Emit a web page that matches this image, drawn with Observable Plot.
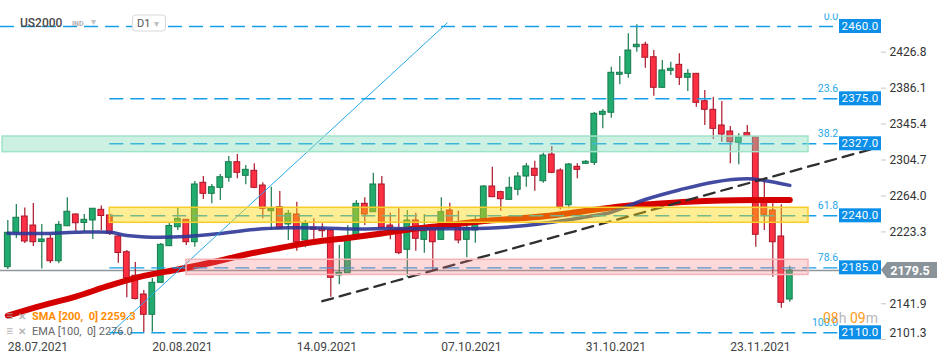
<!DOCTYPE html>
<html>
<head>
<meta charset="utf-8">
<script src="https://cdn.jsdelivr.net/npm/d3@7"></script>
<script src="https://cdn.jsdelivr.net/npm/@observablehq/plot@0.6"></script>
<style>
  html, body { margin: 0; padding: 0; background: #fff; }
  #chart { width: 950px; height: 364px; font-family: Roboto, "Noto Sans", sans-serif; }
</style>
</head>
<body>
<div id="chart"></div>
<script>
// ---------- data ----------
const symbol = "US2000";
const timeframe = "D1";
const xTickIdx = [0, 17, 34, 51, 68, 85];
const xTickLabels = ["28.07.2021", "20.08.2021", "14.09.2021", "07.10.2021", "31.10.2021", "23.11.2021"];
const yTicks = [2101.3, 2141.9, 2223.3, 2264.0, 2304.7, 2345.4, 2386.1, 2426.8];

const open = [
2183.3,2222.3,2240.7,2230.5,2211.9,2215.5,2190.1,2229.7,2243.0,2233.4,
2236.2,2248.3,2241.9,2218.1,2200.3,2173.6,2152.4,2129.4,2165.6,2207.1,
2228.6,2237.0,2211.6,2278.9,2266.4,2273.2,2284.6,2302.2,2286.8,2292.5,
2275.8,2246.7,2251.3,2231.7,2243.0,2213.6,2227.9,2226.8,2224.9,2173.9,
2176.5,2215.5,2255.1,2245.6,2277.0,2230.5,2225.7,2203.0,2236.2,2214.3,
2225.7,2214.3,2247.5,2232.5,2214.3,2224.9,2236.2,2274.7,2268.3,2259.6,
2271.0,2286.0,2294.8,2280.7,2310.9,2292.8,2253.5,2297.0,2300.4,2301.5,
2355.9,2358.2,2401.2,2402.3,2432.5,2435.2,2421.1,2386.5,2405.7,2412.5,
2397.8,2402.3,2371.3,2361.6,2343.8,2337.0,2324.2,2335.1,2330.5,2256.9,
2247.5,2218.1,2146.7];
const high = [
2236.2,2254.3,2250.4,2255.5,2231.7,2219.8,2235.1,2261.9,2243.6,2243.0,
2249.8,2252.6,2243.0,2220.0,2202.2,2188.6,2156.9,2170.5,2210.2,2233.9,
2250.6,2237.3,2280.4,2286.0,2277.0,2288.3,2308.7,2310.9,2298.5,2300.4,
2278.9,2273.9,2269.0,2247.5,2256.9,2236.2,2238.1,2232.5,2226.0,2207.9,
2230.5,2258.9,2261.9,2289.8,2286.0,2244.5,2249.5,2247.5,2244.5,2243.0,
2229.4,2261.9,2255.8,2246.7,2232.8,2240.7,2275.8,2296.6,2269.4,2285.2,
2290.6,2300.8,2303.4,2312.4,2320.0,2294.8,2300.8,2300.4,2304.2,2358.5,
2361.9,2409.8,2421.9,2447.6,2457.8,2438.1,2428.7,2417.4,2415.5,2425.0,
2407.2,2402.7,2383.4,2375.8,2371.0,2342.7,2334.4,2343.8,2330.8,2282.6,
2256.9,2254.0,2184.4];
const low = [
2180.7,2215.8,2210.2,2206.8,2181.3,2187.5,2187.2,2229.4,2223.7,2222.6,
2214.7,2224.9,2219.2,2187.8,2148.7,2146.2,2109.4,2109.7,2164.9,2206.8,
2224.9,2207.9,2206.0,2260.0,2255.1,2258.9,2279.6,2283.4,2276.6,2272.1,
2238.1,2224.9,2226.0,2213.6,2201.4,2205.3,2214.3,2216.6,2149.3,2163.4,
2176.2,2214.7,2230.5,2245.3,2227.1,2214.3,2197.4,2171.3,2201.4,2199.2,
2179.6,2213.6,2227.1,2209.8,2194.0,2210.5,2235.1,2262.3,2246.7,2259.4,
2264.2,2273.9,2269.4,2278.4,2289.1,2248.3,2249.5,2283.4,2299.6,2298.5,
2340.0,2352.1,2389.9,2397.4,2426.8,2408.7,2377.0,2385.7,2400.4,2389.1,
2382.3,2364.5,2343.8,2327.9,2324.9,2300.4,2299.3,2331.3,2206.0,2224.9,
2172.0,2136.9,2143.7];
const close = [
2222.3,2239.3,2212.4,2211.6,2214.7,2190.1,2231.3,2246.1,2233.1,2237.0,
2249.5,2241.3,2221.1,2199.4,2170.9,2147.3,2129.4,2165.6,2208.7,2230.0,
2238.1,2211.6,2277.0,2266.4,2273.9,2285.2,2302.2,2290.2,2293.6,2273.2,
2249.5,2249.5,2226.8,2243.8,2211.6,2232.5,2225.7,2224.1,2171.3,2177.0,
2217.3,2255.1,2243.0,2277.0,2227.9,2227.9,2199.2,2236.2,2215.5,2224.1,
2211.6,2245.6,2227.9,2213.6,2227.9,2236.2,2274.7,2262.6,2260.3,2273.2,
2286.0,2297.4,2286.8,2309.8,2290.2,2251.3,2299.6,2293.6,2302.7,2357.0,
2359.3,2403.5,2403.5,2428.7,2435.2,2420.5,2386.5,2406.1,2408.0,2397.8,
2402.3,2369.5,2361.6,2340.0,2333.6,2324.9,2330.5,2331.7,2220.0,2242.7,
2211.6,2143.0,2179.5];

// SMA 200 (read at sampled candles)
const smaIdx = [0,4,8,12,16,20,24,28,32,36,40,44,48,52,56,60,64,68,72,76,80,84,88,92];
const smaVal = [2128.6,2139.9,2150.1,2162.6,2173.4,2180.7,2188.6,2197.7,2205.1,2211.9,2216.4,2221.5,2227.1,2231.1,2235.6,2238.5,2241.9,2247.0,2252.1,2254.9,2257.4,2258.9,2259.4,2259.3];
// EMA 100 (read at sampled candles)
const emaIdx = [0,4,8,12,14,17,21,25,29,33,37,41,45,49,53,57,61,64,68,71,75,79,83,87,89,92];
const emaVal = [2221.8,2221.5,2222.8,2222.9,2219.2,2217.3,2218.1,2221.5,2226.0,2227.9,2227.7,2226.6,2227.1,2226.8,2226.8,2227.7,2230.5,2234.3,2240.2,2245.6,2260.0,2270.8,2279.6,2283.4,2281.5,2276.0];

// Fibonacci retracement
const fibLevels = ["0.0", "23.6", "38.2", "61.8", "78.6", "100.0"];
const fibPrices = [2455.9, 2374.0, 2323.1, 2241.5, 2182.6, 2109.0];
const fibPriceLabels = ["2460.0", "2375.0", "2327.0", "2240.0", "2185.0", "2110.0"];
const fibStartIdx = [-0.86, 12, 12, 12, 12, 12];
const fibEndIdx = 97.7;
const fibAnchorIdx = [12.08, 51.7];
const fibAnchorVal = [2108.6, 2460.0];

// Zones
const zoneTop = [2331.3, 2250.6, 2191.7];
const zoneBottom = [2313.6, 2233.6, 2174.5];
const zoneStartIdx = [-0.62, 12, 21.02];
const zoneEndIdx = 94.2;
const zoneFill = ["#7fdcb8", "#ffd700", "#f47a80"];
const zoneFillOpacity = [0.4, 0.42, 0.28];
const zoneStroke = ["#9fe3c9", "#f7cd2a", "#f5b3b5"];

// Trend line (dashed)
const trendIdx = [37, 102.4];
const trendVal = [2144.8, 2319.1];

const currentPrice = 2179.5;
const countdown = ["08", "h", " 09", "m"];

// ---------- tables built from the arrays ----------
const candles = open.map((o, i) => ({i, open: o, high: high[i], low: low[i], close: close[i], up: close[i] >= o}));
const sma = smaIdx.map((i, k) => ({i, v: smaVal[k]}));
const ema = emaIdx.map((i, k) => ({i, v: emaVal[k]}));
const fibs = fibPrices.map((p, k) => ({p, level: fibLevels[k], label: fibPriceLabels[k], start: fibStartIdx[k]}));
const zones = zoneTop.map((t, k) => ({top: t, bottom: zoneBottom[k], start: zoneStartIdx[k], fill: zoneFill[k], fo: zoneFillOpacity[k], stroke: zoneStroke[k]}));
const anchor = fibAnchorIdx.map((i, k) => ({i, v: fibAnchorVal[k]}));
const trend = trendIdx.map((i, k) => ({i, v: trendVal[k]}));

const upFill = "#22ab6e", upStroke = "#187a4c", dnFill = "#fd2f42", dnStroke = "#a9162a";
const fibBlue = "#14a0e8";

const plot = Plot.plot({
  width: 950, height: 364,
  marginLeft: 0, marginRight: 70, marginTop: 0, marginBottom: 24,
  x: {domain: [-0.86, 102.67], axis: null},
  y: {domain: [2100.3, 2485.35], axis: null},
  style: {fontFamily: "Roboto, sans-serif", background: "#fff", overflow: "visible"},
  marks: [
    Plot.ruleY([currentPrice], {x1: -0.86, x2: 102.79, stroke: "#8e979c", strokeWidth: 1.5}),
    Plot.axisY({anchor: "right", ticks: yTicks, tickFormat: d => d.toFixed(1), tickSize: 5, tickPadding: 4, fontSize: 12, color: "#333"}),
    Plot.ruleX(candles, {x: "i", y1: "low", y2: "high", stroke: d => d.up ? upStroke : dnStroke, strokeWidth: 1.2}),
    Plot.rect(candles, {x1: d => d.i - 0.34, x2: d => d.i + 0.34, y1: "open", y2: "close",
      fill: d => d.up ? upFill : dnFill, stroke: d => d.up ? upStroke : dnStroke, strokeWidth: 1}),
    Plot.line(sma, {x: "i", y: "v", stroke: "#d40000", strokeWidth: 6, curve: "catmull-rom"}),
    Plot.line(ema, {x: "i", y: "v", stroke: "#2e3797", strokeWidth: 3.5, strokeOpacity: 0.9, curve: "catmull-rom"}),
    Plot.ruleY(fibs, {y: "p", x1: "start", x2: fibEndIdx, stroke: fibBlue, strokeWidth: 1.4, strokeDasharray: "14,7"}),
    Plot.text(fibs, {y: "p", x: fibEndIdx, text: "level", textAnchor: "end", dy: -10, fontSize: 10.5, fill: "#2aa6e6"}),
    Plot.line(anchor, {x: "i", y: "v", stroke: "#27a9e8", strokeWidth: 1}),
    Plot.line(trend, {x: "i", y: "v", stroke: "#2f2f2f", strokeWidth: 2.3, strokeDasharray: "11,7"}),
    Plot.rect(zones, {x1: "start", x2: zoneEndIdx, y1: "bottom", y2: "top", fill: "fill", fillOpacity: "fo", stroke: "stroke", strokeWidth: 1.5}),
    Plot.text(xTickIdx, {x: d => d, text: (d, k) => xTickLabels[k], frameAnchor: "bottom", textAnchor: "start", dy: 10, fontSize: 12, fill: "#444"})
  ]
});

document.getElementById("chart").appendChild(plot);

// ---------- overlays placed with the plot's own scales ----------
const svg = d3.select(plot);
const ys = plot.scale("y");
const Y = v => ys.apply(v);

// axis tweaks
svg.selectAll('g[aria-label="y-axis tick"] path').attr("stroke", "#c8c8c8");
svg.selectAll('g[aria-label="y-axis tick label"] text').each(function() {
  if (d3.select(this).text() === "2101.3") d3.select(this).attr("dy", "-6");
});

// clipped top of "0.0"
svg.append("rect").attr("x", 805).attr("y", 0).attr("width", 40).attr("height", 13.5).attr("fill", "#fff");

const over = svg.append("g").attr("text-anchor", "start").attr("font-family", "Roboto, sans-serif");

// fib price boxes
fibs.forEach(f => {
  const y = Y(f.p);
  over.append("rect").attr("x", 839).attr("y", y - 7).attr("width", 42).attr("height", 14).attr("fill", "#0b8fe8");
  over.append("text").attr("x", 860).attr("y", y).attr("dy", "0.35em").attr("text-anchor", "middle")
    .attr("font-size", 11.5).attr("fill", "#fff").attr("letter-spacing", "0.3").text(f.label);
});

// current price label
const cy = Y(currentPrice);
over.append("path").attr("d", `M881,${cy} L887,${cy - 8} L937,${cy - 8} L937,${cy + 8} L887,${cy + 8} Z`).attr("fill", "#8a9399");
over.append("text").attr("x", 910).attr("y", cy).attr("dy", "0.36em").attr("text-anchor", "middle")
  .attr("font-size", 12.5).attr("font-weight", "bold").attr("fill", "#fff").text(currentPrice.toFixed(1));

// countdown
const cd = over.append("text").attr("x", 823).attr("y", 318).attr("dy", "0.35em").attr("font-size", 14).attr("xml:space", "preserve").style("white-space", "pre");
countdown.forEach((t, k) => cd.append("tspan").attr("fill", k % 2 === 0 ? "#ff9a1a" : "#b8b8b8").text(t));

// title bar
over.append("text").attr("x", 20).attr("y", 23).attr("dy", "0.35em").attr("font-size", 12).attr("font-weight", 500).attr("fill", "#4a4a4a").text(symbol);
over.append("text").attr("x", 72).attr("y", 24).attr("dy", "0.35em").attr("font-size", 7).attr("font-weight", "bold").attr("fill", "#b0b0b0").text("IND");
over.append("text").attr("x", 91).attr("y", 21).attr("dy", "0.35em").attr("font-size", 10).attr("fill", "#c0c0c0").text("▾");
over.append("rect").attr("x", 132.5).attr("y", 15).attr("width", 33).attr("height", 16).attr("rx", 3).attr("fill", "#fff").attr("stroke", "#d8d8d8");
over.append("text").attr("x", 137).attr("y", 23.5).attr("dy", "0.35em").attr("font-size", 11).attr("fill", "#555").text(timeframe);
over.append("text").attr("x", 154).attr("y", 23.5).attr("dy", "0.35em").attr("font-size", 10).attr("fill", "#c0c0c0").text("▾");

// legend
[[316, "#ff8c00", "bold", `SMA [200,  0] ${smaVal[smaVal.length - 1].toFixed(1)}`],
 [331, "#666", "normal", `EMA [100,  0] ${emaVal[emaVal.length - 1].toFixed(1)}`]].forEach(([y, c, w, t]) => {
  over.append("text").attr("x", 6).attr("y", y).attr("dy", "0.35em").attr("font-size", 12).attr("fill", "#a8a8a8").attr("fill-opacity", 0.85).text("≡");
  over.append("text").attr("x", 18).attr("y", y).attr("dy", "0.35em").attr("font-size", 10).attr("font-weight", "bold").attr("fill", "#a8a8a8").attr("fill-opacity", 0.85).text("✕");
  over.append("text").attr("x", 32).attr("y", y).attr("dy", "0.35em").attr("font-size", 11).attr("font-weight", w).attr("fill", c).attr("xml:space", "preserve").style("white-space", "pre").text(t);
});
</script>
</body>
</html>
